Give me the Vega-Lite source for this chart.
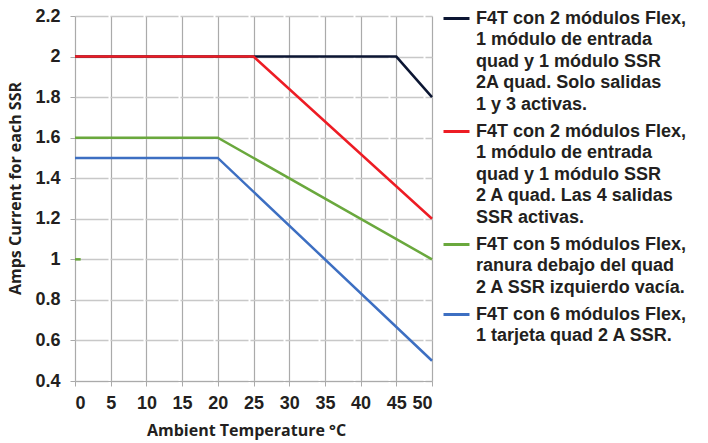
{
  "$schema": "https://vega.github.io/schema/vega-lite/v6.json",
  "autosize": {"type": "none"},
  "padding": {"left": 75, "top": 16, "right": 276, "bottom": 62},
  "width": 357,
  "height": 365,
  "background": "white",
  "config": {
    "view": {"stroke": null},
    "axis": {"labelFont": "Liberation Sans", "labelFontWeight": "bold", "labelColor": "#231f20", "titleFont": "Open Sans", "titleFontWeight": "bold", "titleColor": "#231f20"}
  },
  "datasets": {
    "lines": [
      {"series": "F4T con 2 módulos Flex,|1 módulo de entrada|quad y 1 módulo SSR|2A quad. Solo salidas|1 y 3 activas.", "t": 0, "a": 2.0},
      {"series": "F4T con 2 módulos Flex,|1 módulo de entrada|quad y 1 módulo SSR|2A quad. Solo salidas|1 y 3 activas.", "t": 45, "a": 2.0},
      {"series": "F4T con 2 módulos Flex,|1 módulo de entrada|quad y 1 módulo SSR|2A quad. Solo salidas|1 y 3 activas.", "t": 50, "a": 1.8},
      {"series": "F4T con 2 módulos Flex,|1 módulo de entrada|quad y 1 módulo SSR|2 A quad. Las 4 salidas|SSR activas.", "t": 0, "a": 2.0},
      {"series": "F4T con 2 módulos Flex,|1 módulo de entrada|quad y 1 módulo SSR|2 A quad. Las 4 salidas|SSR activas.", "t": 25, "a": 2.0},
      {"series": "F4T con 2 módulos Flex,|1 módulo de entrada|quad y 1 módulo SSR|2 A quad. Las 4 salidas|SSR activas.", "t": 50, "a": 1.2},
      {"series": "F4T con 5 módulos Flex,|ranura debajo del quad|2 A SSR izquierdo vacía.", "t": 0, "a": 1.6},
      {"series": "F4T con 5 módulos Flex,|ranura debajo del quad|2 A SSR izquierdo vacía.", "t": 20, "a": 1.6},
      {"series": "F4T con 5 módulos Flex,|ranura debajo del quad|2 A SSR izquierdo vacía.", "t": 50, "a": 1.0},
      {"series": "F4T con 6 módulos Flex,|1 tarjeta quad 2 A SSR.", "t": 0, "a": 1.5},
      {"series": "F4T con 6 módulos Flex,|1 tarjeta quad 2 A SSR.", "t": 20, "a": 1.5},
      {"series": "F4T con 6 módulos Flex,|1 tarjeta quad 2 A SSR.", "t": 50, "a": 0.5}
    ],
    "dash": [{"t": 0, "t2": 0.8, "a": 1.0}]
  },
  "encoding": {
    "x": {"field": "t", "type": "quantitative", "scale": {"domain": [0, 50], "nice": false},
      "axis": {"title": "Ambient Temperature °C", "values": [0,5,10,15,20,25,30,35,40,45,50], "labelFontSize": 18, "labelPadding": 8, "titleFontSize": 16, "titlePadding": 10, "titleX": 171,
        "grid": true, "gridColor": "#aaaaaa", "gridWidth": 1.2, "domain": true, "domainColor": "#aaaaaa", "tickColor": "#aaaaaa", "tickSize": 5}},
    "y": {"field": "a", "type": "quantitative", "scale": {"domain": [0.4, 2.2], "nice": false, "zero": false},
      "axis": {"title": "Amps Current for each SSR", "values": [0.4,0.6,0.8,1,1.2,1.4,1.6,1.8,2,2.2], "format": ".1~f", "labelFontSize": 18, "labelPadding": 10, "titleFontSize": 16, "titlePadding": 11, "titleY": 172,
        "grid": true, "gridColor": "#c8c8c8", "gridWidth": 1.5, "gridDash": [33, 2], "domain": false, "tickColor": "#aaaaaa", "tickSize": 5}}
  },
  "layer": [
    {
      "data": {"name": "lines"},
      "mark": {"type": "line", "strokeWidth": 2.5},
      "encoding": {
        "color": {"field": "series", "type": "nominal",
          "sort": [
            "F4T con 2 módulos Flex,|1 módulo de entrada|quad y 1 módulo SSR|2A quad. Solo salidas|1 y 3 activas.",
            "F4T con 2 módulos Flex,|1 módulo de entrada|quad y 1 módulo SSR|2 A quad. Las 4 salidas|SSR activas.",
            "F4T con 5 módulos Flex,|ranura debajo del quad|2 A SSR izquierdo vacía.",
            "F4T con 6 módulos Flex,|1 tarjeta quad 2 A SSR."
          ],
          "scale": {"range": ["#0c1633", "#ed1c24", "#6aa83d", "#3d6fc2"]},
          "legend": {
            "title": null, "orient": "none", "legendX": 367, "legendY": -12,
            "symbolType": "stroke", "symbolSize": 676, "symbolStrokeWidth": 3,
            "labelExpr": "split(datum.label, '|')",
            "labelFont": "Liberation Sans", "labelFontWeight": "bold", "labelFontSize": 18, "labelColor": "#231f20",
            "labelLimit": 300, "labelOffset": 5, "labelBaseline": "top", "rowPadding": 3,
            "encode": {"labels": {"update": {"dy": {"value": -9}, "lineHeight": {"value": 21.5}}}}
          }
        }
      }
    },
    {
      "data": {"name": "dash"},
      "mark": {"type": "rule", "color": "#6aa83d", "strokeWidth": 2.5},
      "encoding": {
        "x2": {"field": "t2"}
      }
    }
  ]
}
